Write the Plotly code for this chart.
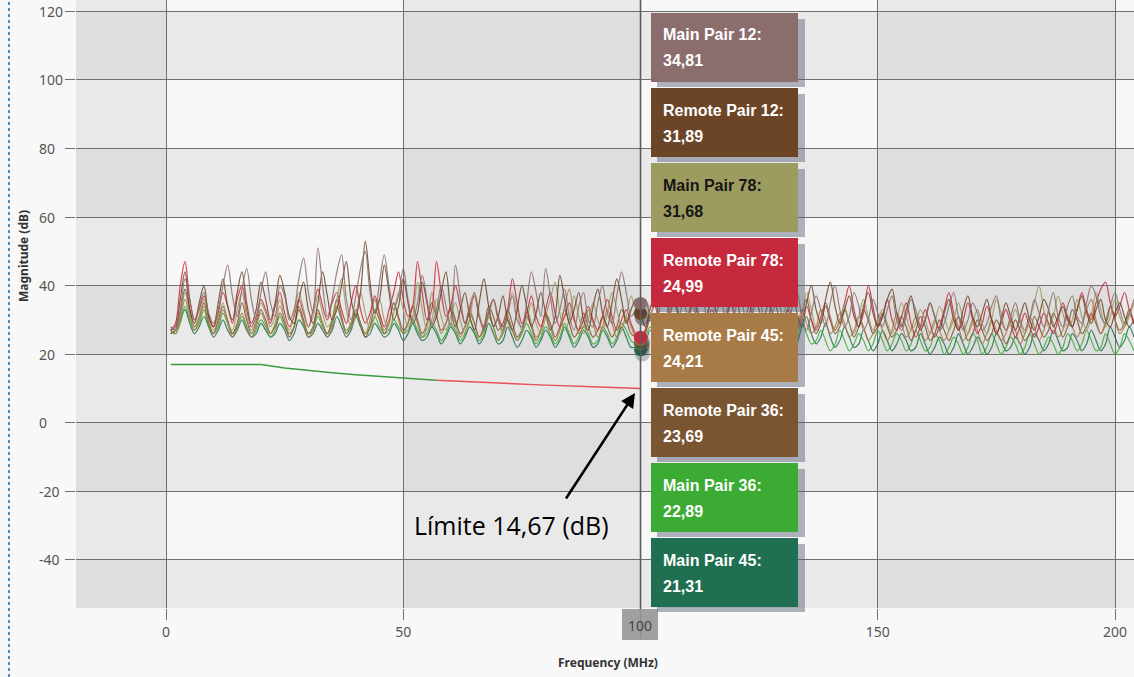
import plotly.graph_objects as go

# ---------------- data ----------------
freq = list(range(1, 205))

main_pair_12 = [
    28, 27, 33, 42, 36, 30, 34, 38, 32, 29,
    33, 40, 46, 37, 31, 39, 45, 36, 30, 38,
    44, 35, 31, 40, 37, 30, 33, 42, 48, 38,
    32, 51, 40, 31, 36, 44, 49, 36, 30, 37,
    45, 50, 38, 32, 41, 49, 40, 33, 37, 45,
    36, 30, 35, 43, 36, 29, 33, 40, 34, 28,
    46, 37, 29, 34, 38, 31, 27, 33, 36, 30,
    27, 32, 37, 30, 28, 35, 44, 38, 31, 45,
    37, 29, 33, 39, 31, 27, 34, 38, 30, 28,
    35, 40, 32, 29, 37, 44, 38, 31, 33, 34.81,
    36, 31, 28, 33, 38, 32, 27, 30, 35, 31,
    28, 34, 37, 30, 27, 32, 36, 29, 27, 33,
    38, 31, 28, 34, 37, 30, 27, 33, 36, 30,
    28, 34, 38, 31, 27, 32, 37, 33, 28, 35,
    40, 33, 28, 31, 38, 34, 27, 30, 36, 32,
    28, 33, 37, 30, 27, 31, 36, 33, 28, 30,
    35, 31, 27, 29, 34, 38, 31, 27, 30, 35,
    32, 27, 29, 34, 37, 30, 27, 31, 35, 30,
    27, 30, 36, 32, 28, 33, 38, 31, 28, 34,
    37, 31, 29, 35, 40, 37, 31, 29, 34, 38,
    33, 29, 32, 36,
]

remote_pair_12 = [
    27, 28, 36, 44, 33, 29, 35, 40, 31, 28,
    35, 42, 34, 30, 38, 44, 35, 29, 33, 41,
    36, 30, 35, 43, 38, 31, 29, 36, 41, 33,
    29, 35, 44, 37, 30, 33, 40, 47, 36, 31,
    38, 53, 41, 32, 36, 46, 38, 30, 34, 42,
    35, 29, 32, 41, 35, 28, 31, 38, 44, 33,
    28, 33, 38, 31, 27, 35, 42, 34, 28, 31,
    37, 30, 27, 33, 40, 34, 28, 32, 38, 32,
    27, 31, 43, 36, 29, 33, 38, 30, 27, 34,
    39, 32, 28, 35, 42, 36, 29, 33, 36, 31.89,
    28, 33, 37, 30, 27, 34, 39, 32, 28, 31,
    36, 33, 28, 31, 37, 32, 27, 30, 35, 38,
    31, 27, 32, 37, 33, 28, 31, 36, 32, 28,
    33, 38, 32, 28, 35, 40, 33, 29, 36, 41,
    34, 29, 33, 37, 31, 28, 34, 38, 32, 28,
    31, 36, 39, 32, 28, 33, 37, 31, 27, 30,
    35, 31, 27, 32, 36, 30, 27, 33, 37, 31,
    28, 32, 36, 30, 26, 30, 35, 31, 27, 31,
    35, 30, 27, 31, 36, 33, 28, 31, 34, 30,
    28, 33, 37, 32, 29, 33, 36, 30, 28, 32,
    35, 31, 28, 30,
]

main_pair_78 = [
    28, 27, 31, 38, 32, 28, 31, 36, 30, 27,
    31, 35, 29, 27, 33, 38, 31, 27, 30, 35,
    32, 28, 31, 36, 30, 27, 32, 38, 33, 28,
    31, 37, 32, 28, 30, 36, 42, 33, 28, 31,
    38, 32, 27, 31, 36, 30, 27, 32, 38, 33,
    28, 31, 41, 33, 27, 30, 36, 31, 27, 31,
    35, 30, 26, 30, 38, 32, 27, 31, 36, 30,
    26, 31, 38, 33, 27, 30, 35, 29, 26, 31,
    36, 41, 32, 27, 30, 37, 31, 26, 30, 35,
    30, 27, 32, 38, 33, 28, 31, 37, 33, 31.68,
    28, 31, 35, 30, 27, 32, 36, 31, 27, 30,
    35, 32, 28, 31, 36, 30, 27, 32, 37, 31,
    28, 30, 35, 31, 27, 30, 34, 30, 27, 31,
    35, 30, 27, 31, 38, 33, 28, 30, 35, 31,
    27, 30, 34, 29, 26, 31, 36, 31, 27, 30,
    33, 29, 26, 30, 35, 31, 27, 29, 33, 30,
    26, 29, 34, 31, 27, 30, 35, 30, 26, 29,
    33, 29, 26, 30, 36, 32, 27, 29, 33, 29,
    26, 30, 35, 40, 33, 28, 31, 37, 32, 28,
    30, 36, 31, 27, 31, 38, 33, 28, 31, 36,
    31, 28, 31, 35,
]

remote_pair_78 = [
    27, 29, 40, 47, 36, 30, 33, 37, 31, 28,
    32, 38, 34, 29, 36, 40, 33, 28, 31, 36,
    33, 29, 34, 38, 32, 28, 31, 36, 32, 28,
    33, 39, 34, 30, 35, 38, 33, 29, 35, 40,
    33, 29, 32, 37, 32, 28, 33, 38, 44, 36,
    31, 34, 47, 38, 30, 33, 47, 38, 31, 34,
    40, 34, 29, 33, 37, 31, 28, 32, 36, 31,
    28, 33, 42, 35, 29, 32, 37, 31, 28, 33,
    38, 32, 28, 31, 35, 30, 27, 30, 34, 30,
    27, 31, 36, 31, 27, 30, 33, 29, 26, 24.99,
    27, 31, 34, 29, 26, 30, 35, 31, 27, 30,
    34, 30, 26, 29, 33, 30, 27, 31, 35, 30,
    27, 30, 34, 29, 26, 30, 35, 31, 27, 29,
    33, 30, 27, 30, 34, 30, 27, 31, 35, 30,
    27, 30, 35, 40, 33, 28, 32, 40, 34, 28,
    31, 36, 30, 27, 31, 35, 29, 25, 28, 33,
    29, 25, 28, 33, 38, 32, 27, 30, 35, 30,
    26, 29, 34, 30, 26, 29, 33, 29, 25, 28,
    32, 28, 25, 28, 32, 29, 26, 30, 35, 31,
    28, 33, 38, 33, 30, 35, 39, 41, 35, 31,
    34, 38, 33, 29,
]

remote_pair_45 = [
    27, 26, 30, 36, 31, 27, 30, 34, 29, 26,
    29, 33, 29, 25, 28, 32, 28, 25, 28, 32,
    29, 26, 29, 34, 30, 26, 28, 33, 29, 25,
    27, 32, 29, 25, 28, 34, 30, 26, 29, 33,
    29, 26, 30, 36, 31, 27, 30, 35, 30, 26,
    29, 34, 29, 25, 28, 38, 32, 26, 29, 33,
    29, 25, 28, 33, 29, 25, 27, 32, 28, 24,
    27, 31, 27, 24, 27, 33, 29, 25, 27, 32,
    28, 24, 27, 34, 39, 31, 26, 28, 33, 29,
    25, 28, 33, 29, 25, 27, 31, 28, 25, 24.21,
    27, 31, 28, 25, 27, 31, 28, 24, 26, 30,
    27, 24, 27, 31, 28, 25, 27, 32, 29, 25,
    27, 31, 28, 24, 26, 30, 27, 24, 27, 31,
    28, 25, 28, 33, 29, 26, 28, 33, 30, 26,
    28, 32, 29, 25, 27, 31, 28, 24, 26, 30,
    27, 24, 27, 32, 29, 25, 27, 31, 28, 24,
    26, 30, 27, 24, 27, 31, 28, 24, 26, 30,
    27, 23, 26, 30, 27, 24, 26, 30, 27, 23,
    26, 31, 28, 24, 27, 32, 29, 25, 27, 31,
    28, 25, 28, 33, 36, 30, 26, 29, 34, 30,
    26, 28, 32, 29,
]

remote_pair_36 = [
    26, 27, 32, 39, 33, 28, 31, 35, 29, 26,
    30, 34, 30, 26, 29, 35, 30, 26, 29, 33,
    30, 26, 28, 32, 29, 25, 28, 34, 30, 26,
    28, 33, 29, 26, 30, 36, 31, 26, 28, 32,
    29, 25, 28, 33, 30, 26, 29, 35, 31, 27,
    29, 34, 30, 26, 29, 35, 31, 27, 29, 34,
    30, 26, 28, 32, 29, 25, 28, 34, 31, 27,
    29, 33, 29, 25, 27, 31, 28, 24, 27, 32,
    29, 25, 28, 33, 29, 25, 27, 32, 28, 25,
    27, 31, 28, 25, 28, 33, 30, 26, 25, 23.69,
    26, 30, 27, 24, 27, 31, 28, 25, 27, 31,
    28, 24, 27, 32, 29, 25, 27, 31, 28, 24,
    27, 31, 28, 25, 27, 32, 29, 25, 27, 30,
    27, 24, 27, 32, 36, 30, 26, 29, 34, 30,
    26, 28, 33, 29, 25, 28, 33, 30, 26, 28,
    32, 28, 25, 27, 31, 28, 24, 27, 31, 28,
    24, 26, 30, 27, 24, 27, 31, 28, 24, 26,
    30, 27, 24, 26, 30, 27, 23, 26, 30, 27,
    24, 26, 31, 28, 25, 27, 32, 29, 25, 28,
    33, 30, 26, 28, 32, 29, 26, 29, 34, 30,
    27, 29, 33, 29,
]

main_pair_36 = [
    27, 26, 29, 34, 30, 27, 29, 33, 28, 26,
    28, 32, 29, 26, 28, 31, 28, 25, 27, 30,
    28, 25, 27, 31, 28, 26, 28, 33, 29, 26,
    27, 31, 28, 26, 29, 34, 30, 27, 29, 33,
    29, 26, 28, 31, 28, 26, 27, 30, 28, 26,
    27, 30, 27, 25, 26, 29, 27, 24, 26, 29,
    27, 24, 26, 30, 27, 24, 26, 31, 28, 24,
    26, 30, 27, 24, 26, 29, 26, 23, 25, 28,
    26, 23, 25, 29, 26, 23, 25, 28, 26, 23,
    24, 28, 26, 23, 25, 29, 27, 24, 23, 22.89,
    25, 28, 25, 22, 24, 28, 25, 22, 24, 27,
    25, 22, 24, 28, 25, 22, 24, 27, 25, 22,
    24, 28, 25, 22, 24, 27, 25, 22, 24, 28,
    25, 22, 24, 29, 26, 23, 24, 27, 24, 21,
    23, 27, 24, 21, 23, 26, 24, 21, 23, 27,
    24, 21, 23, 26, 24, 21, 23, 27, 24, 21,
    22, 26, 24, 20, 22, 25, 23, 20, 22, 26,
    24, 20, 22, 26, 23, 20, 22, 25, 23, 20,
    22, 26, 23, 20, 22, 25, 23, 20, 22, 26,
    24, 21, 23, 27, 24, 21, 22, 26, 23, 20,
    22, 26, 24, 21,
]

main_pair_45 = [
    26, 27, 30, 33, 29, 26, 28, 31, 28, 25,
    27, 30, 27, 25, 27, 30, 27, 25, 26, 29,
    27, 25, 26, 29, 27, 24, 26, 30, 28, 25,
    26, 29, 27, 25, 27, 31, 28, 25, 27, 31,
    28, 25, 26, 29, 27, 25, 26, 29, 27, 24,
    26, 29, 26, 24, 25, 28, 26, 23, 25, 28,
    26, 23, 25, 28, 26, 23, 25, 29, 26, 23,
    24, 28, 25, 22, 24, 27, 25, 22, 24, 27,
    25, 22, 24, 28, 25, 22, 24, 27, 25, 22,
    23, 27, 25, 22, 24, 28, 25, 22, 22, 21.31,
    23, 27, 25, 22, 24, 27, 24, 21, 23, 27,
    24, 21, 23, 27, 25, 22, 23, 26, 24, 21,
    23, 27, 24, 21, 23, 26, 24, 21, 23, 27,
    24, 21, 23, 28, 31, 26, 23, 25, 29, 25,
    22, 24, 28, 25, 22, 23, 27, 24, 21, 23,
    27, 24, 21, 23, 26, 24, 21, 22, 26, 23,
    20, 22, 25, 23, 20, 22, 26, 23, 20, 22,
    25, 23, 20, 22, 26, 24, 21, 22, 25, 23,
    20, 22, 26, 24, 21, 23, 27, 24, 21, 22,
    26, 24, 21, 23, 27, 24, 21, 23, 28, 25,
    22, 24, 28, 25,
]

series_names = ["Main Pair 12", "Remote Pair 12", "Main Pair 78", "Remote Pair 78",
                "Remote Pair 45", "Remote Pair 36", "Main Pair 36", "Main Pair 45"]
series_values = [main_pair_12, remote_pair_12, main_pair_78, remote_pair_78,
                 remote_pair_45, remote_pair_36, main_pair_36, main_pair_45]
series_colors = ["#8b6d6e", "#6b4526", "#9c9b60", "#c6293d",
                 "#a87b46", "#7a5531", "#3bab34", "#1f6f50"]
box_text_colors = ["white", "white", "#161616", "white",
                   "white", "white", "white", "white"]
cursor_freq = 100
cursor_labels = ["34,81", "31,89", "31,68", "24,99", "24,21", "23,69", "22,89", "21,31"]

limit_freq_pass = [1, 20, 25, 30, 35, 40, 45, 50, 57]
limit_db_pass = [17.0, 17.0, 16.0, 15.2, 14.6, 14.0, 13.5, 13.0, 12.4]
limit_freq_fail = [57, 60, 70, 80, 90, 100]
limit_db_fail = [12.4, 12.2, 11.5, 11.0, 10.5, 10.0]

x_ticks = [0, 50, 100, 150, 200]
y_ticks = [-40, -20, 0, 20, 40, 60, 80, 100, 120]

for s in series_values:
    assert len(s) == len(freq), len(s)

# ---------------- layout geometry ----------------
W, H = 1134, 677
ML, MR, MT, MB = 76, 0, 0, 69
XR = [-18.97, 204.0]
YR = [-54.0, 123.3]
PW = W - ML - MR
PH = H - MT - MB


def px_x(p):
    return (p - ML) / PW


def px_y(p):
    return (H - MB - p) / PH


fig = go.Figure()

# limit line
fig.add_trace(go.Scatter(x=limit_freq_pass, y=limit_db_pass, mode="lines",
                         line=dict(color="#3c9a3c", width=1.4), hoverinfo="skip"))
fig.add_trace(go.Scatter(x=limit_freq_fail, y=limit_db_fail, mode="lines",
                         line=dict(color="#e8505a", width=1.4), hoverinfo="skip"))

# measurement traces
for name, vals, col in reversed(list(zip(series_names, series_values, series_colors))):
    fig.add_trace(go.Scatter(x=freq, y=vals, mode="lines", name=name,
                             line=dict(color=col, width=1.2, shape="spline", smoothing=0.9),
                             opacity=0.85))

# cursor markers
idx = freq.index(cursor_freq)
for name, vals, col in reversed(list(zip(series_names, series_values, series_colors))):
    fig.add_trace(go.Scatter(x=[cursor_freq + 0.4], y=[vals[idx] - 1.2], mode="markers",
                             marker=dict(size=15, color="rgba(60,60,70,0.3)"),
                             hoverinfo="skip"))
    fig.add_trace(go.Scatter(x=[cursor_freq], y=[vals[idx]], mode="markers",
                             marker=dict(size=13, color=col, line=dict(width=0)),
                             hoverinfo="skip"))

shapes = []
# checkerboard background
col_bounds = [XR[0]] + x_ticks + [XR[1]]
row_bounds = [YR[0]] + y_ticks + [YR[1]]
for i in range(len(col_bounds) - 1):
    x0, x1 = col_bounds[i], col_bounds[i + 1]
    col_dark = (i % 2 == 0)
    for j in range(len(row_bounds) - 1):
        y0, y1 = row_bounds[j], row_bounds[j + 1]
        row_dark = (j % 2 == 0)
        n = int(col_dark) + int(row_dark)
        fill = ["#f7f7f7", "#e9e9e9", "#dedede"][n]
        shapes.append(dict(type="rect", xref="x", yref="y", x0=x0, x1=x1, y0=y0, y1=y1,
                           fillcolor=fill, line=dict(width=0), layer="below"))

# cursor line
shapes.append(dict(type="line", xref="x", yref="paper", x0=cursor_freq, x1=cursor_freq,
                   y0=px_y(638), y1=1, line=dict(color="#5c5c5c", width=1.6)))
# cursor label box
shapes.append(dict(type="rect", xref="paper", yref="paper", x0=px_x(622), x1=px_x(658),
                   y0=px_y(640), y1=px_y(609), fillcolor="rgba(150,150,150,0.9)",
                   line=dict(width=0)))
# blue dotted left border
shapes.append(dict(type="line", xref="paper", yref="paper", x0=px_x(9), x1=px_x(9),
                   y0=px_y(H), y1=px_y(0), line=dict(color="#4a8fcb", width=2, dash="dot")))

annotations = []
# y tick labels (left aligned, as in the reference)
for v in y_ticks:
    annotations.append(dict(xref="paper", yref="y", x=px_x(37), y=v, text=str(v),
                            showarrow=False, xanchor="left", yanchor="middle",
                            font=dict(family="Noto Sans", size=14, color="#555")))

# tooltip boxes
box_left, box_right, box_h, box_gap, box_top0 = 651, 798, 69, 75, 13
for k, (name, lab, col, tcol) in enumerate(zip(series_names, cursor_labels, series_colors,
                                               box_text_colors)):
    top = box_top0 + k * box_gap
    shapes.append(dict(type="rect", xref="paper", yref="paper",
                       x0=px_x(box_left + 6), x1=px_x(box_right + 7),
                       y0=px_y(top + box_h + 5), y1=px_y(top + 6),
                       fillcolor="rgba(80,90,115,0.45)", line=dict(width=0)))
    shapes.append(dict(type="rect", xref="paper", yref="paper",
                       x0=px_x(box_left), x1=px_x(box_right),
                       y0=px_y(top + box_h), y1=px_y(top),
                       fillcolor=col, line=dict(width=0)))
    annotations.append(dict(xref="paper", yref="paper", x=px_x(box_left + 10), y=px_y(top + 22),
                            text="<b>%s:</b>" % name, showarrow=False, xanchor="left",
                            yanchor="middle",
                            font=dict(family="Liberation Sans, Arial", size=16, color=tcol)))
    annotations.append(dict(xref="paper", yref="paper", x=px_x(box_left + 10), y=px_y(top + 48),
                            text="<b>%s</b>" % lab, showarrow=False, xanchor="left",
                            yanchor="middle",
                            font=dict(family="Liberation Sans, Arial", size=16, color=tcol)))

# cursor label text (replaces the axis tick label at the cursor position)
annotations.append(dict(xref="paper", yref="paper", x=px_x(640), y=px_y(625),
                        text=str(cursor_freq),
                        showarrow=False, xanchor="center", yanchor="middle",
                        font=dict(family="Noto Sans", size=14, color="#444")))

# limit annotation arrow + text
annotations.append(dict(xref="paper", yref="paper", x=px_x(635), y=px_y(393), ax=-70, ay=107,
                        text="", showarrow=True, arrowhead=2, arrowsize=1.1, arrowwidth=2.6,
                        arrowcolor="black"))
annotations.append(dict(xref="paper", yref="paper", x=px_x(511), y=px_y(525),
                        text="Límite 14,67 (dB)", showarrow=False, xanchor="center",
                        yanchor="middle",
                        font=dict(family="Open Sans, Liberation Sans", size=25, color="black")))

# axis titles
annotations.append(dict(xref="paper", yref="paper", x=px_x(608), y=px_y(662),
                        text="<b>Frequency (MHz)</b>", showarrow=False,
                        xanchor="center", yanchor="middle",
                        font=dict(family="Noto Sans", size=12, color="#333")))
annotations.append(dict(xref="paper", yref="paper", x=px_x(23), y=px_y(256),
                        text="<b>Magnitude (dB)</b>", showarrow=False, textangle=-90,
                        xanchor="center", yanchor="middle",
                        font=dict(family="Noto Sans", size=12, color="#333")))

x_ticktext = ["" if v == cursor_freq else str(v) for v in x_ticks]

fig.update_layout(
    width=W, height=H,
    margin=dict(l=ML, r=MR, t=MT, b=MB, pad=0, autoexpand=False),
    paper_bgcolor="#f8f8f8",
    plot_bgcolor="#f7f7f7",
    showlegend=False,
    shapes=shapes,
    annotations=annotations,
    xaxis=dict(range=XR, tickvals=x_ticks, ticktext=x_ticktext, automargin=False,
               showgrid=True, gridcolor="#6f6f6f", gridwidth=1, zeroline=False,
               ticks="outside", ticklen=11, tickcolor="#6f6f6f", tickwidth=1,
               tickfont=dict(family="Noto Sans", size=14, color="#555"),
               showline=False, fixedrange=True),
    yaxis=dict(range=YR, tickvals=y_ticks, showticklabels=False,
               automargin=False,
               showgrid=True, gridcolor="#6f6f6f", gridwidth=1, zeroline=False,
               ticks="outside", ticklen=10, tickcolor="#6f6f6f", tickwidth=1,
               showline=False, fixedrange=True),
)

fig.write_html(
    "out.html",
    config={"displayModeBar": False},
    post_script="document.body.style.margin='0';document.body.style.overflow='hidden';"
                "document.documentElement.style.background='#f8f8f8';",
)
